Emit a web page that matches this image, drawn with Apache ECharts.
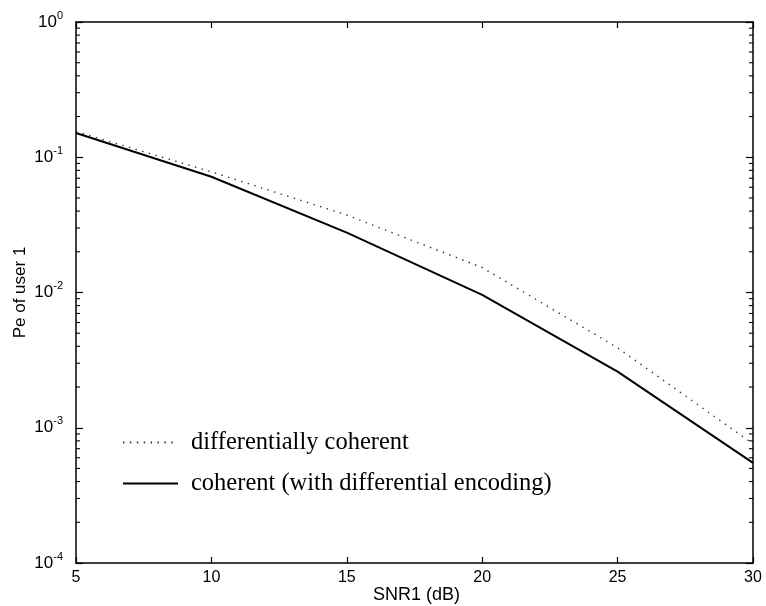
<!DOCTYPE html>
<html>
<head>
<meta charset="utf-8">
<script src="https://cdn.jsdelivr.net/npm/echarts@6/dist/echarts.min.js"></script>
<style>html,body{margin:0;padding:0;background:#fff}#c{width:766px;height:606px}</style>
</head>
<body>
<div id="c"></div>
<script>
const snr = [5, 10, 15, 20, 25, 30];
const diffCoherent = [0.155, 0.078, 0.0374, 0.0153, 0.0039, 0.00076];
const coherentDiffEnc = [0.151, 0.0718, 0.0277, 0.0096, 0.0026, 0.00055];
const xTicks = [5, 10, 15, 20, 25, 30];
const yDecades = [1e-4, 1e-3, 1e-2, 1e-1, 1];
const minorMultipliers = [2, 3, 4, 5, 6, 7, 8, 9];
const seriesNames = ['differentially coherent', 'coherent (with differential encoding)'];

const minorVals = [];
for (let i = 0; i < yDecades.length - 1; i++) {
  for (const m of minorMultipliers) minorVals.push([snr[0], yDecades[i] * m]);
}

const chart = echarts.init(document.getElementById('c'), null, {renderer: 'canvas'});
const sansFont = 'Liberation Sans, Arial, Helvetica, sans-serif';
const axisLine = {show: true, lineStyle: {color: '#000', width: 1.5}};

chart.setOption({
  animation: false,
  backgroundColor: '#fff',
  grid: {left: 76, right: 13, top: 22, bottom: 43, containLabel: false, outerBoundsMode: 'none'},
  legend: {
    orient: 'vertical',
    left: 122,
    top: 430,
    padding: 0,
    itemWidth: 55,
    itemHeight: 14,
    itemGap: 16,
    data: seriesNames,
    itemStyle: {opacity: 0},
    textStyle: {fontFamily: 'Liberation Serif, Times New Roman, serif', fontSize: 24.5, color: '#000', padding: [0, 0, 0, 8]},
    selectedMode: false
  },
  xAxis: [
    {
      type: 'value', min: 5, max: 30, interval: 5, position: 'bottom',
      axisLine: axisLine,
      axisTick: {show: true, inside: true, length: 6, lineStyle: {color: '#000', width: 1.2}},
      axisLabel: {show: true, color: '#000', fontSize: 16, fontFamily: sansFont, margin: 7},
      splitLine: {show: false},
      name: 'SNR1 (dB)', nameLocation: 'middle', nameGap: 23, nameMoveOverlap: false,
      nameTextStyle: {color: '#000', fontSize: 18, fontFamily: sansFont, padding: [0, 0, 0, 4]}
    },
    {
      type: 'value', min: 5, max: 30, interval: 5, position: 'top',
      axisLine: axisLine,
      axisTick: {show: true, inside: true, length: 6, lineStyle: {color: '#000', width: 1.2}},
      axisLabel: {show: false}, splitLine: {show: false}
    }
  ],
  yAxis: [
    {
      type: 'log', logBase: 10, min: 1e-4, max: 1, position: 'left',
      axisLine: axisLine,
      axisTick: {show: true, inside: true, length: 7, lineStyle: {color: '#000', width: 1.2}},
      axisLabel: {
        show: true, margin: 13,
        formatter: function (v) {
          const e = Math.round(Math.log10(v));
          return '{b|10}{s|' + e + '}';
        },
        rich: {
          b: {fontSize: 17, fontFamily: sansFont, color: '#000'},
          s: {fontSize: 11, fontFamily: sansFont, color: '#000', verticalAlign: 'bottom', padding: [0, 0, 13, 0]}
        }
      },
      splitLine: {show: false},
      name: 'Pe of user 1', nameLocation: 'middle', nameGap: 47, nameRotate: 90, nameMoveOverlap: false,
      nameTextStyle: {color: '#000', fontSize: 17, fontFamily: sansFont}
    },
    {
      type: 'log', logBase: 10, min: 1e-4, max: 1, position: 'right',
      axisLine: axisLine,
      axisTick: {show: true, inside: true, length: 7, lineStyle: {color: '#000', width: 1.2}},
      axisLabel: {show: false}, splitLine: {show: false}
    }
  ],
  series: [
    {
      name: seriesNames[0], type: 'line', xAxisIndex: 0, yAxisIndex: 0,
      data: snr.map((x, i) => [x, diffCoherent[i]]),
      symbol: 'none', showSymbol: false,
      lineStyle: {color: '#333', width: 1.4, type: [1.4, 5.5]},
      itemStyle: {color: '#333'}
    },
    {
      name: seriesNames[1], type: 'line', xAxisIndex: 0, yAxisIndex: 0,
      data: snr.map((x, i) => [x, coherentDiffEnc[i]]),
      symbol: 'none', showSymbol: false,
      lineStyle: {color: '#000', width: 2},
      itemStyle: {color: '#000'}
    },
    {
      type: 'custom', xAxisIndex: 0, yAxisIndex: 0, silent: true,
      data: minorVals,
      renderItem: function (params, api) {
        const v = api.value(1);
        const p = api.coord([xTicks[0], v]);
        const q = api.coord([xTicks[xTicks.length - 1], v]);
        const st = {stroke: '#000', lineWidth: 1.1};
        return {
          type: 'group',
          children: [
            {type: 'line', shape: {x1: p[0], y1: p[1], x2: p[0] + 4, y2: p[1]}, style: st},
            {type: 'line', shape: {x1: q[0], y1: q[1], x2: q[0] - 4, y2: q[1]}, style: st}
          ]
        };
      }
    }
  ]
});
</script>
</body>
</html>
